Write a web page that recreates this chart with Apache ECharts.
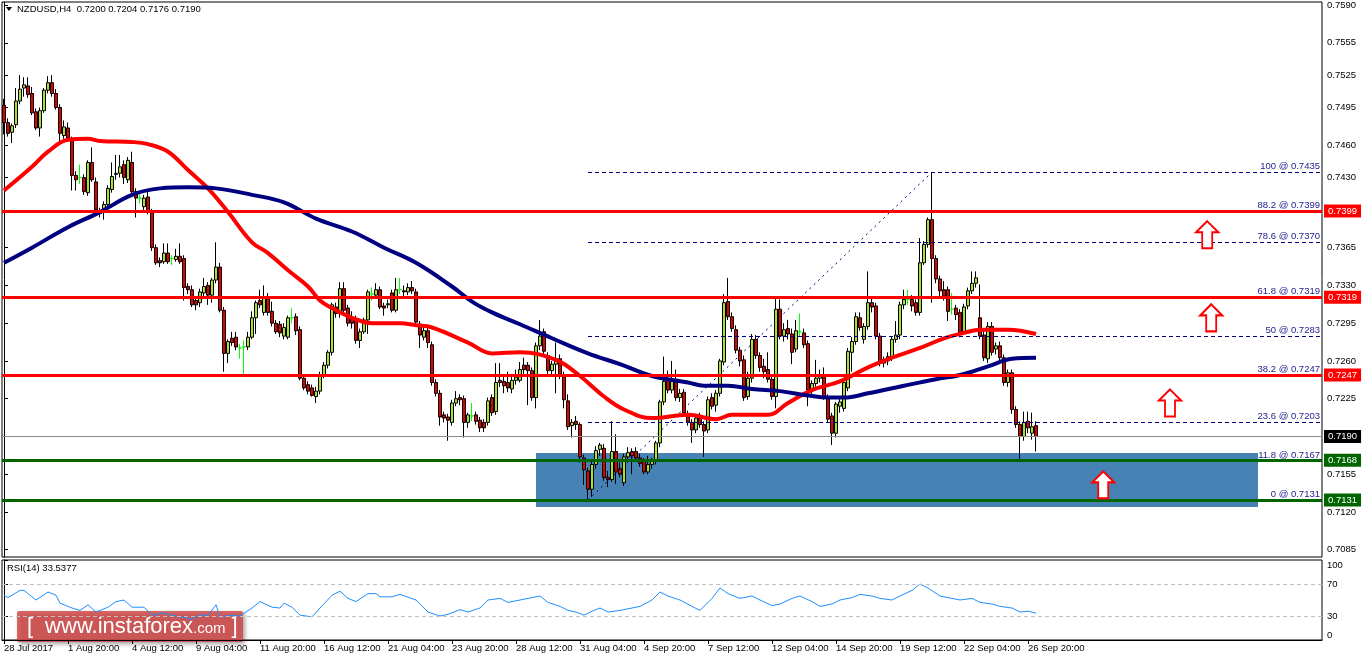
<!DOCTYPE html>
<html><head><meta charset="utf-8">
<script src="https://cdn.jsdelivr.net/npm/echarts@6/dist/echarts.min.js"></script>
<style>html,body{margin:0;padding:0;background:#fff}#c{width:1362px;height:661px}</style>
</head><body><div id="c"></div><script>
// ---------- DATA ----------
const symbolName = 'NZDUSD,H4';
// candles: [open, high, low, close]
const ohlc = [
[0.7497,0.7503,0.7470,0.7481],[0.7481,0.7485,0.7468,0.7471],[0.7472,0.7480,0.7462,0.7478],[0.7479,0.7513,0.7476,0.7501],
[0.7501,0.7525,0.7498,0.7512],[0.7513,0.7523,0.7505,0.7516],[0.7515,0.7523,0.7504,0.7507],[0.7508,0.7514,0.7488,0.7490],
[0.7491,0.7494,0.7474,0.7476],[0.7476,0.7495,0.7468,0.7492],[0.7492,0.7513,0.7490,0.7511],[0.7511,0.7524,0.7508,0.7518],
[0.7518,0.7525,0.7505,0.7508],[0.7508,0.7512,0.7493,0.7495],[0.7495,0.7498,0.7463,0.7471],[0.7469,0.7483,0.7466,0.7477],
[0.7476,0.7481,0.7464,0.7467],[0.7465,0.7468,0.7418,0.7432],[0.7432,0.7436,0.7418,0.7428],[0.7430,0.7442,0.7424,0.7430],
[0.7430,0.7433,0.7414,0.7417],[0.7416,0.7446,0.7413,0.7444],[0.7444,0.7458,0.7426,0.7428],[0.7426,0.7430,0.7395,0.7400],
[0.7397,0.7402,0.7393,0.7399],[0.7398,0.7408,0.7391,0.7405],[0.7405,0.7423,0.7403,0.7420],[0.7419,0.7444,0.7416,0.7431],
[0.7433,0.7451,0.7428,0.7434],[0.7434,0.7451,0.7430,0.7440],[0.7442,0.7446,0.7424,0.7430],[0.7428,0.7449,0.7425,0.7446],
[0.7444,0.7454,0.7414,0.7417],[0.7417,0.7420,0.7393,0.7411],[0.7411,0.7417,0.7406,0.7411],[0.7403,0.7414,0.7400,0.7411],
[0.7412,0.7417,0.7396,0.7398],[0.7398,0.7401,0.7362,0.7365],[0.7365,0.7368,0.7349,0.7351],[0.7353,0.7356,0.7347,0.7351],
[0.7352,0.7369,0.7350,0.7360],[0.7360,0.7369,0.7350,0.7352],[0.7355,0.7358,0.7349,0.7355],[0.7354,0.7364,0.7352,0.7357],
[0.7357,0.7369,0.7350,0.7352],[0.7355,0.7358,0.7316,0.7328],[0.7329,0.7332,0.7322,0.7326],[0.7326,0.7330,0.7310,0.7312],
[0.7316,0.7318,0.7307,0.7312],[0.7314,0.7327,0.7310,0.7324],[0.7323,0.7337,0.7320,0.7329],[0.7330,0.7333,0.7312,0.7321],
[0.7321,0.7337,0.7314,0.7335],[0.7335,0.7370,0.7332,0.7347],[0.7347,0.7351,0.7305,0.7307],[0.7307,0.7310,0.7250,0.7267],
[0.7267,0.7280,0.7258,0.7278],[0.7281,0.7287,0.7274,0.7277],[0.7282,0.7287,0.7270,0.7273],[0.7272,0.7276,0.7262,0.7272],
[0.7273,0.7279,0.7248,0.7273],[0.7273,0.7287,0.7270,0.7282],[0.7282,0.7306,0.7280,0.7300],[0.7300,0.7316,0.7285,0.7314],
[0.7316,0.7326,0.7309,0.7312],[0.7305,0.7330,0.7302,0.7318],[0.7318,0.7323,0.7302,0.7305],[0.7306,0.7315,0.7292,0.7295],
[0.7295,0.7298,0.7285,0.7287],[0.7294,0.7297,0.7282,0.7286],[0.7283,0.7295,0.7280,0.7291],[0.7282,0.7302,0.7280,0.7300],
[0.7300,0.7309,0.7295,0.7300],[0.7301,0.7304,0.7284,0.7288],[0.7289,0.7292,0.7242,0.7244],[0.7244,0.7247,0.7233,0.7235],
[0.7238,0.7241,0.7229,0.7232],[0.7235,0.7238,0.7227,0.7228],[0.7227,0.7236,0.7221,0.7232],[0.7232,0.7250,0.7229,0.7247],
[0.7247,0.7259,0.7244,0.7256],[0.7256,0.7270,0.7253,0.7268],[0.7268,0.7314,0.7265,0.7312],[0.7310,0.7314,0.7300,0.7304],
[0.7304,0.7333,0.7300,0.7327],[0.7327,0.7333,0.7304,0.7307],[0.7309,0.7312,0.7292,0.7295],[0.7300,0.7306,0.7290,0.7295],
[0.7298,0.7302,0.7276,0.7279],[0.7279,0.7290,0.7272,0.7287],[0.7287,0.7300,0.7285,0.7298],[0.7298,0.7326,0.7285,0.7324],
[0.7322,0.7328,0.7316,0.7322],[0.7321,0.7332,0.7318,0.7326],[0.7326,0.7329,0.7308,0.7310],[0.7311,0.7314,0.7302,0.7309],
[0.7312,0.7317,0.7309,0.7313],[0.7323,0.7326,0.7305,0.7307],[0.7307,0.7337,0.7305,0.7326],[0.7326,0.7337,0.7322,0.7326],
[0.7325,0.7330,0.7320,0.7324],[0.7324,0.7332,0.7321,0.7328],[0.7328,0.7334,0.7322,0.7325],[0.7324,0.7327,0.7293,0.7296],
[0.7294,0.7297,0.7272,0.7284],[0.7282,0.7291,0.7279,0.7288],[0.7288,0.7291,0.7272,0.7277],[0.7275,0.7278,0.7237,0.7240],
[0.7240,0.7243,0.7227,0.7230],[0.7230,0.7233,0.7200,0.7208],[0.7210,0.7213,0.7203,0.7207],[0.7208,0.7211,0.7186,0.7205],
[0.7203,0.7224,0.7200,0.7221],[0.7221,0.7232,0.7218,0.7225],[0.7226,0.7229,0.7219,0.7224],[0.7225,0.7228,0.7189,0.7203],
[0.7203,0.7212,0.7198,0.7210],[0.7209,0.7221,0.7204,0.7209],[0.7210,0.7213,0.7201,0.7204],[0.7205,0.7208,0.7194,0.7198],
[0.7203,0.7206,0.7194,0.7198],[0.7203,0.7226,0.7200,0.7223],[0.7226,0.7229,0.7209,0.7212],[0.7213,0.7258,0.7210,0.7240],
[0.7242,0.7258,0.7236,0.7240],[0.7241,0.7245,0.7230,0.7237],[0.7240,0.7250,0.7231,0.7235],[0.7234,0.7248,0.7230,0.7242],
[0.7242,0.7252,0.7238,0.7245],[0.7242,0.7259,0.7240,0.7252],[0.7256,0.7263,0.7248,0.7252],[0.7256,0.7259,0.7219,0.7251],
[0.7251,0.7254,0.7223,0.7226],[0.7226,0.7277,0.7216,0.7274],[0.7274,0.7298,0.7270,0.7283],[0.7287,0.7290,0.7266,0.7269],
[0.7265,0.7268,0.7248,0.7251],[0.7251,0.7260,0.7246,0.7257],[0.7257,0.7277,0.7230,0.7262],[0.7262,0.7266,0.7243,0.7246],
[0.7247,0.7250,0.7216,0.7224],[0.7223,0.7229,0.7196,0.7199],[0.7200,0.7206,0.7189,0.7203],[0.7204,0.7209,0.7196,0.7201],
[0.7201,0.7203,0.7166,0.7171],[0.7170,0.7173,0.7145,0.7159],[0.7158,0.7161,0.7131,0.7141],[0.7141,0.7167,0.7134,0.7164],
[0.7164,0.7181,0.7160,0.7177],[0.7178,0.7184,0.7172,0.7182],[0.7179,0.7183,0.7149,0.7152],[0.7152,0.7158,0.7143,0.7150],
[0.7150,0.7204,0.7148,0.7176],[0.7176,0.7192,0.7146,0.7157],[0.7160,0.7166,0.7152,0.7155],[0.7147,0.7174,0.7144,0.7171],
[0.7171,0.7180,0.7166,0.7175],[0.7176,0.7179,0.7155,0.7172],[0.7176,0.7180,0.7167,0.7170],[0.7170,0.7174,0.7162,0.7165],
[0.7167,0.7170,0.7155,0.7157],[0.7157,0.7172,0.7155,0.7164],[0.7164,0.7170,0.7160,0.7167],[0.7167,0.7186,0.7164,0.7184],
[0.7184,0.7224,0.7180,0.7222],[0.7222,0.7264,0.7219,0.7241],[0.7242,0.7251,0.7230,0.7233],[0.7233,0.7260,0.7230,0.7242],
[0.7243,0.7252,0.7223,0.7226],[0.7226,0.7234,0.7222,0.7230],[0.7231,0.7234,0.7209,0.7212],[0.7211,0.7214,0.7200,0.7203],
[0.7203,0.7206,0.7184,0.7196],[0.7196,0.7210,0.7193,0.7207],[0.7207,0.7212,0.7198,0.7201],[0.7201,0.7204,0.7171,0.7195],
[0.7196,0.7227,0.7193,0.7224],[0.7226,0.7230,0.7215,0.7218],[0.7219,0.7233,0.7213,0.7230],[0.7230,0.7262,0.7227,0.7260],
[0.7259,0.7322,0.7256,0.7314],[0.7315,0.7337,0.7298,0.7301],[0.7301,0.7305,0.7287,0.7290],[0.7289,0.7293,0.7267,0.7270],
[0.7270,0.7273,0.7255,0.7260],[0.7261,0.7265,0.7223,0.7226],[0.7227,0.7250,0.7224,0.7244],[0.7244,0.7285,0.7240,0.7280],
[0.7280,0.7284,0.7262,0.7265],[0.7265,0.7268,0.7250,0.7254],[0.7255,0.7262,0.7244,0.7250],[0.7252,0.7268,0.7240,0.7243],
[0.7243,0.7246,0.7224,0.7227],[0.7227,0.7318,0.7216,0.7308],[0.7308,0.7317,0.7280,0.7283],[0.7283,0.7295,0.7278,0.7289],
[0.7290,0.7298,0.7280,0.7285],[0.7285,0.7290,0.7257,0.7268],[0.7271,0.7298,0.7268,0.7288],[0.7287,0.7304,0.7282,0.7287],
[0.7286,0.7290,0.7272,0.7275],[0.7276,0.7279,0.7218,0.7233],[0.7233,0.7242,0.7228,0.7239],[0.7239,0.7261,0.7236,0.7244],
[0.7244,0.7252,0.7240,0.7247],[0.7246,0.7254,0.7224,0.7227],[0.7226,0.7229,0.7203,0.7206],[0.7209,0.7212,0.7182,0.7193],
[0.7193,0.7222,0.7189,0.7220],[0.7218,0.7225,0.7212,0.7222],[0.7216,0.7243,0.7213,0.7240],[0.7235,0.7272,0.7232,0.7269],
[0.7268,0.7282,0.7250,0.7278],[0.7278,0.7305,0.7275,0.7301],[0.7300,0.7305,0.7288,0.7291],[0.7280,0.7295,0.7276,0.7292],
[0.7292,0.7343,0.7289,0.7314],[0.7314,0.7319,0.7305,0.7310],[0.7311,0.7314,0.7280,0.7283],[0.7283,0.7286,0.7255,0.7258],
[0.7258,0.7264,0.7254,0.7261],[0.7260,0.7268,0.7256,0.7264],[0.7264,0.7283,0.7260,0.7280],[0.7280,0.7297,0.7277,0.7284],
[0.7284,0.7315,0.7280,0.7312],[0.7312,0.7326,0.7308,0.7317],[0.7317,0.7326,0.7312,0.7317],[0.7317,0.7321,0.7306,0.7311],
[0.7314,0.7317,0.7302,0.7305],[0.7305,0.7374,0.7302,0.7351],[0.7351,0.7371,0.7349,0.7368],[0.7368,0.7393,0.7365,0.7391],
[0.7391,0.7435,0.7314,0.7355],[0.7355,0.7358,0.7332,0.7336],[0.7336,0.7339,0.7320,0.7325],[0.7326,0.7334,0.7316,0.7320],
[0.7326,0.7329,0.7297,0.7306],[0.7308,0.7323,0.7303,0.7308],[0.7309,0.7312,0.7298,0.7303],[0.7305,0.7308,0.7282,0.7286],
[0.7287,0.7313,0.7284,0.7310],[0.7311,0.7328,0.7308,0.7325],[0.7325,0.7343,0.7322,0.7332],[0.7332,0.7343,0.7328,0.7337],
[0.7300,0.7331,0.7280,0.7283],[0.7284,0.7288,0.7260,0.7263],[0.7262,0.7296,0.7258,0.7292],[0.7292,0.7296,0.7265,0.7268],
[0.7271,0.7277,0.7266,0.7274],[0.7274,0.7278,0.7259,0.7263],[0.7263,0.7266,0.7237,0.7240],[0.7240,0.7252,0.7236,0.7249],
[0.7249,0.7252,0.7211,0.7215],[0.7215,0.7218,0.7198,0.7201],[0.7201,0.7204,0.7168,0.7190],[0.7190,0.7213,0.7186,0.7203],
[0.7204,0.7213,0.7193,0.7198],[0.7193,0.7212,0.7187,0.7199],[0.7200,0.7204,0.7176,0.7190]
];
// moving averages: [barIndex, value]
const maRed = [[0,0.7418],[7,0.7440],[11,0.7454],[16,0.7465],[21,0.7466],[24,0.7464],[32,0.7463],[36,0.7461],[41,0.7454],[46,0.7437],[51,0.7420],[56,0.7398],[62,0.7370],[66,0.7360],[71,0.7344],[76,0.7329],[79,0.7316],[82,0.7309],[87,0.7300],[92,0.7295],[99,0.7295],[103,0.7293],[107,0.7291],[116,0.7277],[122,0.7267],[129,0.7268],[138,0.7261],[144,0.7246],[150,0.7227],[155,0.7215],[162,0.7207],[171,0.7210],[178,0.7206],[182,0.7210],[191,0.7210],[196,0.7221],[202,0.7233],[209,0.7241],[216,0.7254],[222,0.7263],[229,0.7272],[235,0.7281],[240,0.7286],[244,0.7289],[251,0.7289],[258,0.7285]];
const maNavy = [[0,0.7351],[7,0.7365],[16,0.7384],[24,0.7398],[32,0.7414],[39,0.7420],[46,0.7421],[53,0.7420],[62,0.7414],[70,0.7407],[78,0.7392],[87,0.7380],[95,0.7365],[103,0.7351],[112,0.7329],[117,0.7315],[122,0.7305],[129,0.7294],[137,0.7281],[146,0.7267],[154,0.7257],[162,0.7246],[171,0.7240],[175,0.7237],[181,0.7237],[187,0.7234],[194,0.7232],[201,0.7228],[206,0.7226],[210,0.7226],[216,0.7230],[225,0.7237],[233,0.7243],[239,0.7247],[246,0.7255],[252,0.7262],[258,0.7263]];
// RSI(14): [barIndex, value]
const rsi = [[0,56],[1,53],[4,62],[5,62],[8,50],[11,60],[13,56],[14,46],[17,40],[19,37],[21,44],[23,35],[26,41],[28,48],[30,50],[32,41],[35,41],[37,31],[40,34],[42,31],[44,29],[47,26],[49,31],[51,31],[53,44],[54,29],[57,31],[59,30],[62,40],[64,48],[67,41],[69,40],[70,46],[72,41],[74,31],[77,29],[79,40],[82,56],[84,61],[86,52],[88,48],[91,58],[93,58],[94,54],[97,54],[99,57],[103,50],[106,35],[109,30],[111,32],[114,38],[116,35],[119,40],[121,50],[124,52],[126,47],[129,50],[131,52],[134,55],[136,47],[139,42],[141,37],[143,35],[145,31],[147,36],[149,40],[151,35],[154,37],[157,40],[159,42],[162,50],[164,60],[166,55],[169,50],[172,42],[174,37],[177,52],[179,65],[181,58],[184,52],[187,55],[189,50],[192,43],[194,45],[197,52],[199,55],[202,48],[204,42],[207,45],[209,50],[212,53],[214,57],[217,55],[219,52],[222,50],[224,55],[227,62],[229,70],[231,65],[234,55],[237,52],[239,50],[242,52],[244,47],[247,45],[249,42],[252,40],[254,35],[256,36],[258,33.5377]];
const rsiLabel = 'RSI(14) 33.5377';
// Fibonacci retracement
const fibPct = [100, 88.2, 78.6, 61.8, 50, 38.2, 23.6, 11.8, 0];
const fibVal = [0.7435, 0.7399, 0.7370, 0.7319, 0.7283, 0.7247, 0.7203, 0.7167, 0.7131];
const fibFromBar = 146, fibToBar = 232;
// horizontal levels
const resistance = [0.7399, 0.7319, 0.7247];
const support = [0.7168, 0.7131];
const lastPrice = 0.7190;
// support zone (bar range, price range)
const zone = {fromBar: 133, toBar: 313.5, top: 0.71746, bottom: 0.71245};
// up-arrow annotations [bar, price]
const arrows = [[300.8, 0.7377], [301.8, 0.7300], [291.5, 0.7221], [274.8, 0.7145]];
// price axis tick labels
const priceTicks = [0.7590,0.7555,0.7525,0.7495,0.7460,0.7430,0.7365,0.7330,0.7295,0.7260,0.7225,0.7155,0.7120,0.7085];
const rsiTicks = [0, 30, 70, 100];
const NCAT = 330;

// ---------- BUILD ----------
const MONTHS=['Jan','Feb','Mar','Apr','May','Jun','Jul','Aug','Sep','Oct','Nov','Dec'];
const categories=[];
let t=Date.UTC(2017,6,28,4);
for(let i=0;i<NCAT;i++){
  const d=new Date(t);
  if(i===0) categories.push(d.getUTCDate()+' '+MONTHS[d.getUTCMonth()]+' '+d.getUTCFullYear());
  else categories.push(d.getUTCDate()+' '+MONTHS[d.getUTCMonth()]+' '+String(d.getUTCHours()).padStart(2,'0')+':00');
  t+=4*3600e3; while([0,6].includes(new Date(t).getUTCDay())) t+=4*3600e3;
}
const candleData = ohlc.map(([o,h,l,c])=>{
  const item={value:[o,c,l,h]};
  if(o===c) item.itemStyle={color:'#00ff00',color0:'#00ff00',borderColor:'#00ff00',borderColor0:'#00ff00'};
  return item;
});
const last = ohlc[ohlc.length-1];
const FONT='Liberation Sans';
const FS=9.5;
const showTick = (idx)=> idx%16===0 && idx<ohlc.length;
const arrowPath='path://M11,0 L22,11 L16,11 L16,27 L6,27 L6,11 L0,11 Z';

const chart = echarts.init(document.getElementById('c'), null, {renderer:'canvas'});
chart.setOption({
  animation:false,
  backgroundColor:'#fff',
  textStyle:{fontFamily:FONT},
  grid:[
    {left:2, top:2, width:1320, height:555, show:true, borderColor:'#000', borderWidth:1},
    {left:2, top:560, width:1320, height:80, show:true, borderColor:'#000', borderWidth:1}
  ],
  xAxis:[
    {type:'category', gridIndex:0, data:categories, boundaryGap:true, axisLine:{show:false}, axisTick:{show:false}, axisLabel:{show:false}},
    {type:'value', gridIndex:0, min:-0.5, max:NCAT-0.5, show:false},
    {type:'category', gridIndex:1, data:categories, boundaryGap:true,
      axisLine:{show:true, lineStyle:{color:'#000'}},
      axisTick:{show:true, alignWithLabel:true, interval:showTick, length:4, lineStyle:{color:'#000'}},
      axisLabel:{interval:showTick, align:'left', fontSize:FS, color:'#000', margin:3, fontFamily:FONT}},
    {type:'value', gridIndex:1, min:-0.5, max:NCAT-0.5, show:false}
  ],
  yAxis:[
    {type:'value', gridIndex:0, position:'right', min:0.70782, max:0.75928, splitLine:{show:false},
      axisLine:{show:true, lineStyle:{color:'#000'}},
      axisTick:{show:true, length:4, customValues:priceTicks, lineStyle:{color:'#000'}},
      axisLabel:{customValues:priceTicks, formatter:(v)=>v.toFixed(4), fontSize:FS, color:'#000', margin:5, fontFamily:FONT}},
    {type:'value', gridIndex:1, position:'right', min:0, max:100, splitLine:{show:false},
      axisLine:{show:true, lineStyle:{color:'#000'}},
      axisTick:{show:true, length:4, customValues:rsiTicks, lineStyle:{color:'#000'}},
      axisLabel:{customValues:rsiTicks, fontSize:FS, color:'#000', margin:5, fontFamily:FONT,
        verticalAlignMinLabel:'bottom', verticalAlignMaxLabel:'top'}}
  ],
  series:[
    {name:'zone', type:'line', xAxisIndex:1, yAxisIndex:0, data:[], z:1,
      markArea:{silent:true, itemStyle:{color:'#4682B4', opacity:1},
        data:[[{coord:[zone.fromBar, zone.top]},{coord:[zone.toBar, zone.bottom]}]]}},
    {name:'fib', type:'line', xAxisIndex:1, yAxisIndex:0, z:2, showSymbol:false,
      data:[[fibFromBar, fibVal[fibVal.length-1]],[fibToBar, fibVal[0]]],
      lineStyle:{color:'#000080', width:1, type:[2,4]},
      markLine:{silent:true, symbol:'none', animation:false, precision:4,
        lineStyle:{color:'#000080', width:1, type:[4,3]},
        label:{position:'insideEndTop', formatter:'{b}', color:'#1c1c8a', fontSize:FS, distance:[2,1], fontFamily:FONT},
        data: fibPct.map((p,k)=>[{coord:[fibFromBar, fibVal[k]], name:p+' @ '+fibVal[k].toFixed(4)},{coord:[NCAT-0.5, fibVal[k]]}])}},
    {name:'last', type:'line', xAxisIndex:1, yAxisIndex:0, data:[], z:2,
      markLine:{silent:true, symbol:'none', precision:4, lineStyle:{color:'#8c8c8c', width:1, type:'solid'},
        label:{position:'end', formatter:(p)=>Number(p.value).toFixed(4), color:'#fff', backgroundColor:'#000', padding:[2,4,1,4], fontSize:FS, distance:2, fontFamily:FONT},
        data:[{yAxis:lastPrice}]}},
    {name:symbolName, type:'candlestick', xAxisIndex:0, yAxisIndex:0, z:3, barWidth:3,
      itemStyle:{color:'#a6e22e', color0:'#e00000', borderColor:'#000', borderColor0:'#000', borderWidth:1},
      data:candleData},
    {name:'MA red', type:'line', xAxisIndex:1, yAxisIndex:0, z:4, smooth:0.4, showSymbol:false, data:maRed,
      lineStyle:{color:'#ff0000', width:4}},
    {name:'MA navy', type:'line', xAxisIndex:1, yAxisIndex:0, z:4, smooth:0.4, showSymbol:false, data:maNavy,
      lineStyle:{color:'#000080', width:4}},
    {name:'levels', type:'line', xAxisIndex:1, yAxisIndex:0, data:[], z:5,
      markLine:{silent:true, symbol:'none', precision:4,
        label:{position:'end', formatter:(p)=>Number(p.value).toFixed(4), color:'#fff', padding:[2,4,1,4], fontSize:FS, distance:2, fontFamily:FONT},
        data: resistance.map(v=>({yAxis:v, lineStyle:{color:'#ff0000', width:3, type:'solid'}, label:{backgroundColor:'#ff0000'}}))
          .concat(support.map(v=>({yAxis:v, lineStyle:{color:'#006400', width:3, type:'solid'}, label:{backgroundColor:'#006400'}})))}},
    {name:'arrows', type:'line', xAxisIndex:1, yAxisIndex:0, data:[], z:6,
      markPoint:{silent:true, symbol:arrowPath, symbolSize:[22,27], label:{show:false},
        itemStyle:{color:'#ffffff', borderColor:'#ff0000', borderWidth:2},
        data: arrows.map(a=>({coord:a}))}},
    {name:'RSI', type:'line', xAxisIndex:3, yAxisIndex:1, z:3, showSymbol:false, data:rsi,
      lineStyle:{color:'#1e90ff', width:1},
      markLine:{silent:true, symbol:'none', label:{show:false}, lineStyle:{color:'#c0c0c0', width:1, type:[4,3]},
        data:[{yAxis:30},{yAxis:70}]}}
  ],
  graphic:[
    {type:'polygon', shape:{points:[[6,7],[12,7],[9,11]]}, style:{fill:'#000'}, z:10},
    {type:'text', left:17, top:4, z:10, style:{text:symbolName+'  '+last.map(v=>v.toFixed(4)).join(' '), fill:'#000', font:FS+'px '+FONT}},
    {type:'text', left:7, top:563, z:10, style:{text:rsiLabel, fill:'#000', font:FS+'px '+FONT}},
    {type:'group', left:17, top:611, z:20, children:[
      {type:'rect', shape:{x:0,y:0,width:226,height:31,r:2}, style:{fill:'rgba(212,70,70,0.82)', shadowBlur:4, shadowColor:'rgba(0,0,0,0.45)', shadowOffsetX:2, shadowOffsetY:2}},
      {type:'text', x:10, y:16, style:{text:'{b|[}{a|www.instaforex}{c|.com}{d|]}', verticalAlign:'middle', fill:'#fff',
        rich:{a:{fontSize:22, fontFamily:FONT, fill:'#fff'}, b:{fontSize:22, fontFamily:FONT, fill:'#fff', padding:[0,12,0,0]}, d:{fontSize:22, fontFamily:FONT, fill:'#fff', padding:[0,0,0,6]}, c:{fontSize:15, fontFamily:FONT, fill:'#fff', padding:[4,0,0,0]}}}}
    ]}
  ]
});
</script></body></html>
